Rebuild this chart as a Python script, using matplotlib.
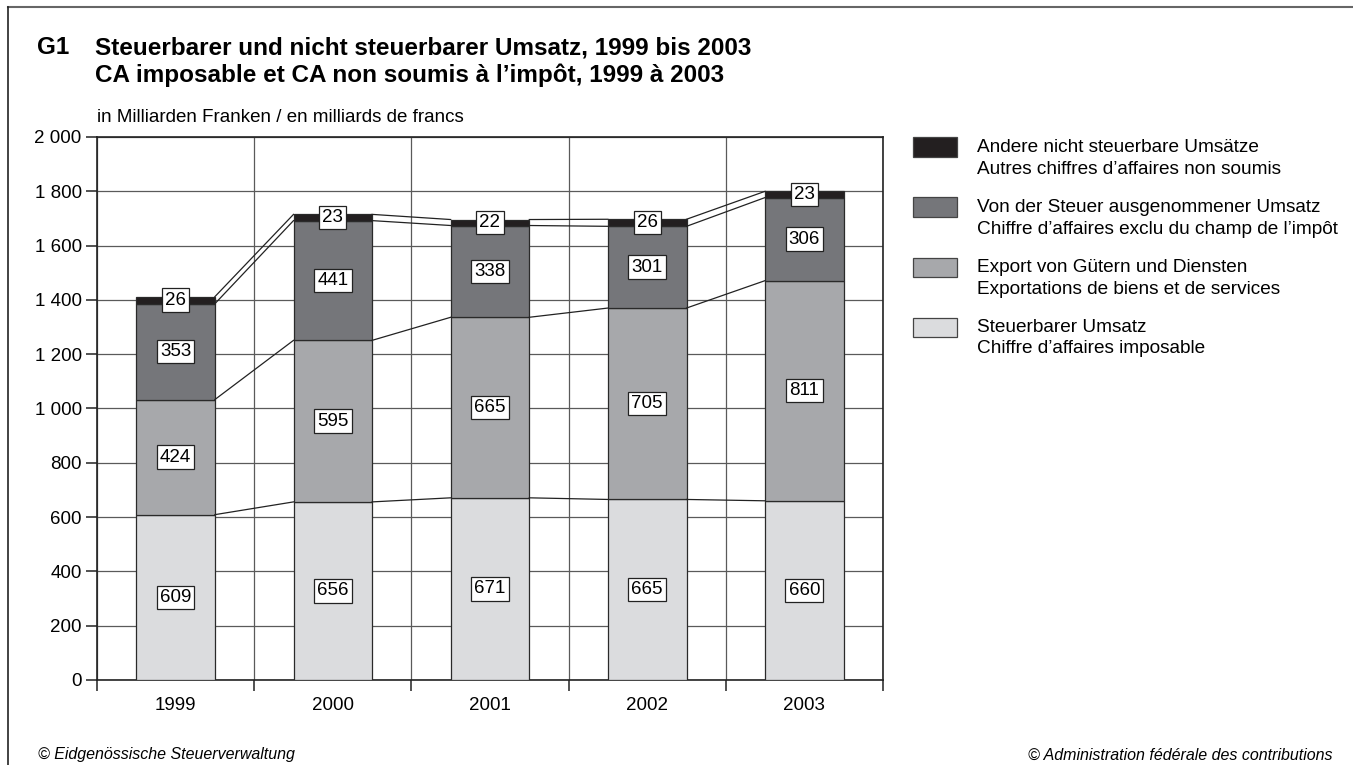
import numpy as np
import matplotlib
matplotlib.use("Agg")
import matplotlib.pyplot as plt
from matplotlib.patches import Rectangle
from matplotlib.lines import Line2D

plt.rcParams["font.family"] = ["Liberation Sans", "DejaVu Sans"]

years = ["1999", "2000", "2001", "2002", "2003"]
taxable = [609, 656, 671, 665, 660]
export = [424, 595, 665, 705, 811]
exempt = [353, 441, 338, 301, 306]
other = [26, 23, 22, 26, 23]

series = [taxable, export, exempt, other]
colors = ["#dbdcde", "#a7a8ab", "#75767a", "#231f20"]
legend_labels = [
    ("Steuerbarer Umsatz", "Chiffre d\u2019affaires imposable"),
    ("Export von G\u00fctern und Diensten", "Exportations de biens et de services"),
    ("Von der Steuer ausgenommener Umsatz", "Chiffre d\u2019affaires exclu du champ de l\u2019imp\u00f4t"),
    ("Andere nicht steuerbare Ums\u00e4tze", "Autres chiffres d\u2019affaires non soumis"),
]

W, H = 1353, 765
FS = 13.5
fig = plt.figure(figsize=(W / 100, H / 100), dpi=100)
ax = fig.add_axes([97 / W, 1 - 680 / H, (883 - 97) / W, (680 - 137) / H])

x = np.arange(len(years))
width = 0.5
bottom = np.zeros(len(years))
levels = []
for vals, col in zip(series, colors):
    vals = np.array(vals, dtype=float)
    ax.bar(x, vals, width, bottom=bottom, color=col, edgecolor="#2a2a2a",
           linewidth=0.9, zorder=3)
    for xi, b, v in zip(x, bottom, vals):
        ax.text(xi, b + v / 2, f"{int(v)}", ha="center", va="center",
                fontsize=FS, zorder=5,
                bbox=dict(boxstyle="square,pad=0.17", fc="white", ec="#222222", lw=0.9))
    bottom = bottom + vals
    levels.append(bottom.copy())

# connector lines between bars
for lev in levels:
    for i in range(len(years) - 1):
        ax.plot([x[i] + width / 2, x[i + 1] - width / 2], [lev[i], lev[i + 1]],
                color="#222222", lw=0.9, zorder=4)

ax.set_xlim(-0.5, len(years) - 0.5)
ax.set_ylim(0, 2000)
yt = np.arange(0, 2001, 200)
ax.set_yticks(yt)
ax.set_yticklabels([f"{v:,}".replace(",", " ") for v in yt], fontsize=FS)
ax.set_xticks(np.arange(-0.5, len(years), 1.0))
ax.set_xticklabels([])
ax.set_xticks(x, minor=True)
ax.set_xticklabels(years, minor=True, fontsize=FS)
ax.tick_params(axis="x", which="minor", length=0, pad=12)
ax.tick_params(axis="x", which="major", length=8, width=1.1, color="#222222")
ax.tick_params(axis="y", length=8, width=1.1, color="#222222", pad=3)
ax.grid(True, which="major", color="#5a5a5a", lw=0.9, zorder=0)
for s in ax.spines.values():
    s.set_color("#222222")
    s.set_linewidth(1.2)

# legend drawn at fixed figure positions
for k, ((l1, l2), col) in enumerate(zip(legend_labels[::-1], colors[::-1])):
    y0 = 147 + k * 60
    fig.patches.append(Rectangle((913 / W, 1 - (y0 + 9.5) / H), 44 / W, 19 / H,
                                 transform=fig.transFigure, fc=col, ec="#444444", lw=0.9))
    fig.text(977 / W, 1 - y0 / H, l1, ha="left", va="center", fontsize=13.7)
    fig.text(977 / W, 1 - (y0 + 22) / H, l2, ha="left", va="center", fontsize=13.7)

# titles
fig.text(37 / W, 1 - 48 / H, "G1", fontsize=17.5, fontweight="bold", va="center")
fig.text(95 / W, 1 - 48 / H, "Steuerbarer und nicht steuerbarer Umsatz, 1999 bis 2003",
         fontsize=17.5, fontweight="bold", va="center")
fig.text(95 / W, 1 - 75 / H, "CA imposable et CA non soumis \u00e0 l\u2019imp\u00f4t, 1999 \u00e0 2003",
         fontsize=17.5, fontweight="bold", va="center")
fig.text(97 / W, 1 - 118 / H, "in Milliarden Franken / en milliards de francs",
         fontsize=FS, va="center")

# footer
fig.text(38 / W, 1 - 755 / H, "\u00a9 Eidgen\u00f6ssische Steuerverwaltung",
         fontsize=11.5, style="italic", va="center")
fig.text(1333 / W, 1 - 755 / H, "\u00a9 Administration f\u00e9d\u00e9rale des contributions",
         fontsize=11.5, style="italic", va="center", ha="right")

# outer frame (top and left)
fig.add_artist(Line2D([8 / W, 1], [1 - 7 / H, 1 - 7 / H], color="#666666", lw=1.5,
                      transform=fig.transFigure))
fig.add_artist(Line2D([8 / W, 8 / W], [0, 1 - 7 / H], color="#222222", lw=1.2,
                      transform=fig.transFigure))

fig.savefig("out.png", dpi=100)
